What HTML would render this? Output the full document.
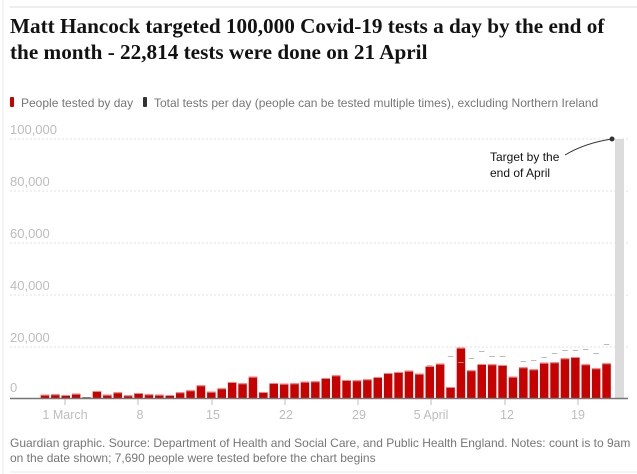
<!DOCTYPE html>
<html><head><meta charset="utf-8"><style>
body{margin:0;width:637px;height:474px;background:#fff;overflow:hidden;font-family:"Liberation Sans",sans-serif;}
</style></head><body>
<svg width="637" height="474" xmlns="http://www.w3.org/2000/svg" style="position:absolute;left:0;top:0">
<line x1="3" y1="0" x2="3" y2="474" stroke="#e8e8e8" stroke-width="1"/>
<line x1="10" y1="7" x2="637" y2="7" stroke="#dcdcdc" stroke-width="1"/>
<text x="10" y="33" font-family="Liberation Serif,serif" font-weight="bold" font-size="21.2" fill="#121212">Matt Hancock targeted 100,000 Covid-19 tests a day by the end of</text>
<text x="10" y="59" font-family="Liberation Serif,serif" font-weight="bold" font-size="21.2" fill="#121212">the month - 22,814 tests were done on 21 April</text>
<rect x="10" y="97" width="4" height="10" rx="1" fill="#c70000"/>
<text x="21" y="107" font-size="12" fill="#767676">People tested by day</text>
<rect x="143" y="97" width="4" height="10" rx="1" fill="#333"/>
<text x="154" y="107" font-size="12" fill="#767676">Total tests per day (people can be tested multiple times), excluding Northern Ireland</text>
<g font-size="13" fill="#bdbdbd">
<text x="10" y="134">100,000</text><text x="10" y="186">80,000</text><text x="10" y="238">60,000</text><text x="10" y="290">40,000</text><text x="10" y="342">20,000</text><text x="10" y="392">0</text>
</g>
<g stroke="#e0e0e0" stroke-dasharray="2,2" stroke-width="1">
<line x1="10" y1="139" x2="628" y2="139"/><line x1="10" y1="191" x2="628" y2="191"/><line x1="10" y1="243" x2="628" y2="243"/><line x1="10" y1="295" x2="628" y2="295"/><line x1="10" y1="347" x2="628" y2="347"/>
</g>
<rect x="615" y="139" width="9" height="259" fill="#dcdcdc"/>
<path d="M565 155 Q585 143 612 139" fill="none" stroke="#333" stroke-width="1"/>
<circle cx="612" cy="139" r="2.5" fill="#333"/>
<text x="490" y="161" font-size="12" fill="#121212">Target by the</text>
<text x="490" y="177" font-size="12" fill="#121212">end of April</text>
<g id="bars" fill="#c70000"></g>
<line x1="10" y1="398.5" x2="628" y2="398.5" stroke="#767676" stroke-width="1.5"/>
<g stroke="#bdbdbd"><line x1="65" y1="399" x2="65" y2="405"/><line x1="138" y1="399" x2="138" y2="405"/><line x1="212" y1="399" x2="212" y2="405"/><line x1="285" y1="399" x2="285" y2="405"/><line x1="358" y1="399" x2="358" y2="405"/><line x1="431" y1="399" x2="431" y2="405"/><line x1="505" y1="399" x2="505" y2="405"/><line x1="578" y1="399" x2="578" y2="405"/></g>
<g font-size="12.5" fill="#bdbdbd" text-anchor="middle">
<text x="65" y="419">1 March</text><text x="140" y="419">8</text><text x="213" y="419">15</text><text x="286" y="419">22</text><text x="359" y="419">29</text><text x="431" y="419">5 April</text><text x="507" y="419">12</text><text x="578" y="419">19</text>
</g>
<text x="10" y="447" font-size="12" fill="#767676">Guardian graphic. Source: Department of Health and Social Care, and Public Health England. Notes: count is to 9am</text>
<text x="10" y="462" font-size="12" fill="#767676">on the date shown; 7,690 people were tested before the chart begins</text>
<line x1="10" y1="472" x2="637" y2="472" stroke="#e8e8e8"/>
</svg>
<script>
var h=[3.3,3.7,3,4.3,0.7,7,3.3,5.7,2.7,5,3.7,3.3,3,5.7,7.7,12.7,6.3,9.7,16,14.7,21.3,6,15,14.3,14.7,16.3,16.7,
20,22.7,18,17.7,18.7,21,25,26,27.3,24.3,32,34.3,11,50.3,27.7,34,33.7,33,21.3,30.7,28.7,35.3,35.7,39.7,41,33.7,29.7,34.7];
var tot={37:33,39:42,40:36,41:40,42:47,43:42,44:42,46:37,47:38,48:41,49:45,50:48,51:48,52:49,53:45,54:54};
var g=document.getElementById('bars'),s='';
for(var i=0;i<h.length;i++){var x=40.7+i*10.4;
s+='<rect x="'+x.toFixed(1)+'" y="'+(398-h[i]).toFixed(1)+'" width="8.5" height="'+h[i]+'" fill="'+(i==4?'#333':'#c70000')+'"/>';
if(i!=4) s+='<rect x="'+x.toFixed(1)+'" y="'+(398-h[i]).toFixed(1)+'" width="8.5" height="1" fill="#e88"/>';
if(tot[i]) s+='<rect x="'+(x+1.5).toFixed(1)+'" y="'+(398-tot[i]).toFixed(1)+'" width="5.5" height="0.8" fill="#aaa"/>';}
g.innerHTML=s;
</script>
</body></html>
